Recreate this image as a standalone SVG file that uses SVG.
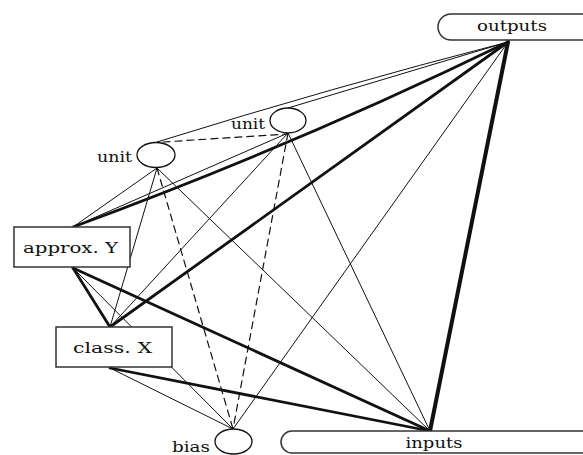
<svg xmlns="http://www.w3.org/2000/svg" width="583" height="455" viewBox="0 0 583 455">
<style>
.bg{fill:#fff}
.c{fill:none;stroke:#111;stroke-linecap:round}
.t1{stroke-width:1}
.t2{stroke-width:2.8}
.t3{stroke-width:4}
.d{stroke-dasharray:7,5;stroke-width:1.2}
.box{fill:#fff;stroke:#333;stroke-width:1.5}
.n{fill:#fff;stroke:#111;stroke-width:1.3}
text{font-family:"DejaVu Serif","Liberation Serif",serif;font-size:14px;fill:#111}
</style>
<rect class="bg" x="0" y="0" width="583" height="455"/>
<g id="connectors">
  <path class="c t1" d="M157,142 Q330,88 508,42"/>
  <line class="c t1" x1="288" y1="108" x2="508" y2="42"/>
  <path class="c t2" d="M73,227 Q294,146 508,42"/>
  <line class="c t2" x1="110" y1="327" x2="508" y2="42"/>
  <line class="c t1" x1="233" y1="429" x2="508" y2="42"/>
  <line class="c t3" x1="430" y1="431" x2="508" y2="42"/>
  <line class="c t2" x1="73" y1="268" x2="430" y2="431"/>
  <line class="c t2" x1="110" y1="368" x2="430" y2="431"/>
  <line class="c t1" x1="157" y1="168" x2="430" y2="431"/>
  <line class="c t1" x1="288" y1="133" x2="430" y2="431"/>
  <line class="c t1" x1="157" y1="168" x2="73" y2="227"/>
  <line class="c t1" x1="288" y1="133" x2="73" y2="227"/>
  <line class="c t1" x1="157" y1="168" x2="110" y2="327"/>
  <line class="c t1" x1="288" y1="133" x2="110" y2="327"/>
  <line class="c d" x1="157" y1="168" x2="233" y2="429"/>
  <line class="c d" x1="288" y1="133" x2="233" y2="429"/>
  <line class="c d" x1="163" y1="142" x2="287" y2="134"/>
  <line class="c t2" x1="73" y1="268" x2="110" y2="327"/>
  <line class="c t1" x1="73" y1="268" x2="233" y2="429"/>
  <line class="c t1" x1="110" y1="368" x2="233" y2="429"/>
</g>
<g id="outputs">
  <rect class="box" x="438" y="14" width="170" height="26" rx="13"/>
  <text x="512" y="31" text-anchor="middle" textLength="70" lengthAdjust="spacingAndGlyphs">outputs</text>
</g>
<g id="inputs">
  <rect class="box" x="281" y="431" width="320" height="22" rx="11"/>
  <text x="434" y="448" text-anchor="middle" textLength="57" lengthAdjust="spacingAndGlyphs">inputs</text>
</g>
<g id="unit1">
  <ellipse class="n" cx="156" cy="155" rx="19" ry="12.5"/>
  <text x="97" y="162" textLength="35" lengthAdjust="spacingAndGlyphs">unit</text>
</g>
<g id="unit2">
  <ellipse class="n" cx="288" cy="120.5" rx="18" ry="12.5"/>
  <text x="231" y="129" textLength="34" lengthAdjust="spacingAndGlyphs">unit</text>
</g>
<g id="approxY">
  <rect class="box" x="14" y="227" width="116" height="40"/>
  <text x="23" y="253" textLength="95" lengthAdjust="spacingAndGlyphs">approx. Y</text>
</g>
<g id="classX">
  <rect class="box" x="56" y="327" width="116" height="40"/>
  <text x="73" y="353" textLength="79" lengthAdjust="spacingAndGlyphs">class. X</text>
</g>
<g id="bias">
  <ellipse class="n" cx="233.5" cy="441.5" rx="18.5" ry="12.5"/>
  <text x="172" y="452" textLength="38" lengthAdjust="spacingAndGlyphs">bias</text>
</g>
</svg>
